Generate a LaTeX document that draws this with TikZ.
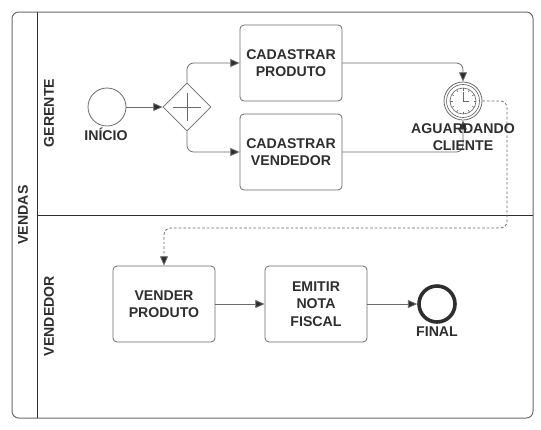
\documentclass[tikz,border=0pt]{standalone}
\usepackage{fontspec}
\setmainfont{Liberation Sans}
\usetikzlibrary{arrows.meta,shapes.geometric}
\definecolor{inkgray}{HTML}{2E2E2E}
\definecolor{edgegray}{HTML}{6A6A6A}
\tikzset{
    lane/.style={draw=inkgray, line width=0.75pt},
    lanelabel/.style={font=\bfseries\fontsize{10.6}{12.5}\selectfont, text=inkgray, rotate=90, align=center},
    taskbox/.style={draw=edgegray, line width=0.6pt, rounded corners=3pt, minimum width=76.5pt, minimum height=57pt, inner sep=0pt, align=center, font=\bfseries\fontsize{10.6}{13.2}\selectfont, text=inkgray},
    caption/.style={font=\bfseries\fontsize{10.6}{13.2}\selectfont, text=inkgray, align=center, inner sep=0pt},
    event/.style={draw=edgegray, circle, line width=0.6pt, minimum size=28.5pt, inner sep=0pt},
    flow/.style={draw=edgegray, line width=0.6pt, rounded corners=5pt, -{Triangle[length=7pt,width=6pt,fill=inkgray]}},
    handoff/.style={flow, dashed, dash pattern=on 2pt off 1.5pt}
}
\begin{document}
\begin{tikzpicture}[x=0.75pt,y=-0.75pt]
    \useasboundingbox (0,0) rectangle (541,429);
    % Pool
    \draw[draw=edgegray, line width=0.75pt, rounded corners=5pt] (12,12) rectangle (533,418);
    \draw[lane] (37,12) -- (37,418);
    \draw[lane] (37,215) -- (533,215);
    \node[lanelabel] (vendas) at (23,215) {VENDAS};
    \node[lanelabel] (gerente) at (49,113) {GERENTE};
    \node[lanelabel] (vendedor) at (49,316) {VENDEDOR};

    % Gerente
    \node[event] (inicio) at (107,107) {};
    \node[draw=edgegray, diamond, line width=0.6pt, minimum width=36pt, minimum height=36pt, inner sep=0pt] (gateway) at (187,107) {};
    \draw[edgegray, line width=0.5pt] (gateway.center) +(-14,0) -- +(14,0) (gateway.center) +(0,-14) -- +(0,14);
    \node[taskbox] (produto) at (291,63) {CADASTRAR\\PRODUTO};
    \node[taskbox] (cadvendedor) at (291,152) {CADASTRAR\\VENDEDOR};
    \node[event] (timer) at (463,101) {};

    % Clock
    \draw[edgegray, line width=0.5pt] (timer.center) circle (16.5);
    \draw[edgegray, line width=0.5pt] (timer.center) circle (13);
    \foreach \a in {0,30,...,330}
        \draw[edgegray, line width=0.4pt] (timer.center) ++(\a:10.5) -- ++(\a:2.5);
    \draw[edgegray, line width=0.5pt] (463,92) -- (timer.center) -- (469,101);

    % Vendedor
    \node[taskbox] (vender) at (164,304) {VENDER\\PRODUTO};
    \node[taskbox] (emitir) at (316,304) {EMITIR\\NOTA\\FISCAL};
    \node[draw=inkgray, circle, line width=2.7pt, minimum size=27pt, inner sep=0pt] (final) at (437,304) {};

    % Flows
    \draw[flow] (inicio) -- (gateway);
    \draw[flow] (gateway.north) |- (produto.west);
    \draw[flow] (gateway.south) |- (cadvendedor.west);
    \draw[flow] (produto.east) -| (timer.north);
    \draw[flow] (cadvendedor.east) -| (timer.south);
    \draw[handoff] (timer.east) -- (507,101) -- (507,228) -| (vender.north);
    \draw[flow] (vender) -- (emitir);
    \draw[flow] (emitir) -- (final);

    % Captions
    \node[caption] (inicioname) at (106,134) {INÍCIO};
    \node[caption] (timername) at (463,137) {AGUARDANDO\\CLIENTE};
    \node[caption] (finalname) at (437,331.5) {FINAL};
\end{tikzpicture}
\end{document}
